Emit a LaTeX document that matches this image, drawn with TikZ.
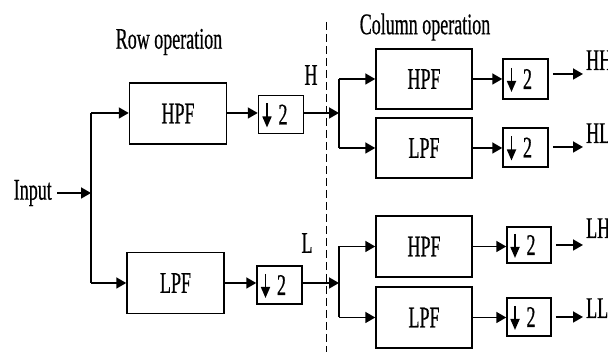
\documentclass[tikz,border=0pt]{standalone}
\usepackage{fontspec}
\setmainfont{Liberation Serif}[FakeStretch=0.6, FakeBold=0.5]
\usetikzlibrary{arrows.meta}

\tikzset{
  every node/.style={font=\fontsize{30}{32}\selectfont, inner sep=0pt},
  filt/.style={draw, line width=1.5pt, minimum width=97pt, minimum height=61pt},
  dbox/.style={draw, line width=1.5pt, minimum width=45pt, minimum height=38pt,
    path picture={
      \draw[line width=1.7pt, -{Triangle[length=11pt,width=9pt]}]
        ([shift={(-14pt,11pt)}]path picture bounding box.center) --
        ([shift={(-14pt,-13pt)}]path picture bounding box.center);
    }},
  wire/.style={line width=1.8pt},
  conn/.style={wire, -{Triangle[length=10pt,width=11pt]}},
  divider/.style={line width=1pt, dash pattern=on 8pt off 4pt},
}

\begin{document}
\begin{tikzpicture}[x=1pt,y=-1pt]
\useasboundingbox (0,0) rectangle (608,352);

% headings
\node (rowop) at (169,42) {Row operation};
\node (colop) at (425,27) {Column operation};

% row stage
\node[anchor=east] (in) at (52,193) {Input};
\coordinate (s1) at (91,193);
\coordinate (t1) at (91,113);
\coordinate (b1) at (91,283);
\node[filt] (hpf1) at (178,113.5) {HPF};
\node[filt] (lpf1) at (175.5,283) {LPF};
\node[dbox] (d1) at (281,114.5) {\hspace{4pt}2};
\node[dbox] (d2) at (279.5,285) {\hspace{4pt}2};

\draw[conn] ([xshift=5pt]in.east) -- (s1);
\draw[wire] (t1) -- (b1);
\draw[conn] (t1) -- (t1 -| hpf1.west);
\draw[conn] (b1) -- (b1 -| lpf1.west);
\draw[conn] (t1 -| hpf1.east) -- (t1 -| d1.west);
\draw[conn] (b1 -| lpf1.east) -- (b1 -| d2.west);

\node (hlab) at (311,75) {H};
\node (llab) at (307,243) {L};

% stage divider
\coordinate (dtop) at (326,22);
\coordinate (dbot) at (326,352);
\draw[divider] (dtop) -- (dbot);

% column stage, H branch
\coordinate (jh) at (339,113);
\draw[conn] (jh -| d1.east) -- (jh);
\node[filt, minimum width=96pt, minimum height=60pt] (hpf2) at (424,79) {HPF};
\node[filt, minimum width=96pt, minimum height=60pt] (lpf2) at (424,148) {LPF};
\draw[wire] (jh |- hpf2) -- (jh |- lpf2);
\draw[conn] (jh |- hpf2) -- (hpf2.west);
\draw[conn] (jh |- lpf2) -- (lpf2.west);
\node[dbox, minimum height=40pt] (d3) at (525.5,79) {\hspace{4pt}2};
\node[dbox, minimum height=39pt] (d4) at (525.5,147.5) {\hspace{4pt}2};
\draw[conn] (hpf2.east) -- (hpf2.east -| d3.west);
\draw[conn] (lpf2.east) -- (lpf2.east -| d4.west);

% column stage, L branch
\coordinate (jl) at (339,283);
\draw[conn] (jl -| d2.east) -- (jl);
\node[filt, minimum width=96pt] (hpf3) at (424,246.5) {HPF};
\node[filt, minimum width=96pt] (lpf3) at (424,317.5) {LPF};
\draw[wire] (jl |- hpf3) -- (jl |- lpf3);
\draw[conn] (jl |- hpf3) -- (hpf3.west);
\draw[conn] (jl |- lpf3) -- (lpf3.west);
\node[dbox, minimum width=44pt, minimum height=36pt] (d5) at (529,245) {\hspace{4pt}2};
\node[dbox, minimum width=44pt, minimum height=38pt] (d6) at (529,317) {\hspace{4pt}2};
\draw[conn] (hpf3.east) -- (hpf3.east -| d5.west);
\draw[conn] (lpf3.east) -- (lpf3.east -| d6.west);

% outputs
\coordinate (ohh) at (583,74);
\coordinate (ohl) at (583,147);
\coordinate (olh) at (583,245);
\coordinate (oll) at (583,317);
\node[anchor=base west] (hh) at (586,70) {HH};
\node[anchor=base west] (hl) at (586,143) {HL};
\node[anchor=base west] (lh) at (586,238) {LH};
\node[anchor=base west] (ll) at (586,318) {LL};
\draw[conn] ([xshift=4pt]d3.east |- ohh) -- (ohh);
\draw[conn] ([xshift=4pt]d4.east |- ohl) -- (ohl);
\draw[conn] ([xshift=4pt]d5.east |- olh) -- (olh);
\draw[conn] ([xshift=4pt]d6.east |- oll) -- (oll);
\end{tikzpicture}
\end{document}
